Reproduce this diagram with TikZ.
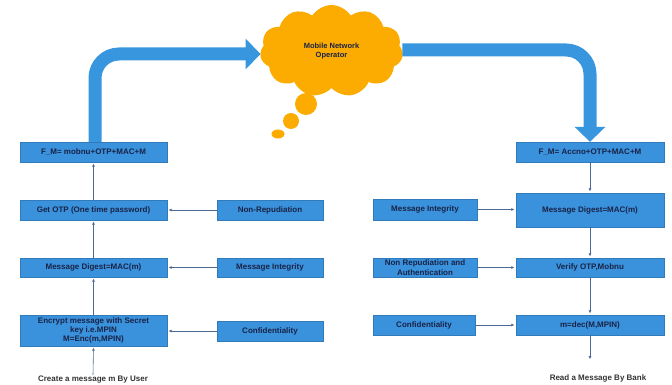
\documentclass[tikz,border=0pt]{standalone}
\usepackage{fontspec}
\setmainfont{Liberation Sans}
\usetikzlibrary{shapes.symbols,arrows.meta}
\definecolor{boxblue}{RGB}{58,145,220}
\definecolor{bigblue}{RGB}{55,150,222}
\definecolor{txtdark}{RGB}{25,35,70}
\definecolor{thinarr}{RGB}{75,105,145}
\definecolor{cloudorange}{RGB}{252,172,0}
\tikzset{
  box/.style={fill=boxblue, draw=boxblue!85!black, line width=0.3pt, inner sep=1pt, align=center,
     text=txtdark, font=\fontsize{8}{9.3}\selectfont\bfseries},
  lbox/.style={box, minimum width=147pt},
  rbox/.style={box, minimum width=148pt},
  sbox/.style={box, minimum width=105pt},
  plain/.style={inner sep=1pt, text=black!80, font=\fontsize{8}{9.5}\selectfont\bfseries},
  thin/.style={draw=thinarr, line width=0.6pt, -{Latex[length=3pt,width=3pt]}, shorten >=1.5pt},
  big/.style={draw=bigblue, line width=13pt, rounded corners=24pt, -{Triangle[width=30pt,length=15pt]}},
  bubble/.style={fill=cloudorange}
}
\begin{document}
\begin{tikzpicture}[x=1pt,y=-1pt]
\useasboundingbox (0,0) rectangle (672,385);
% cloud
\node[cloud, cloud puffs=11, cloud puff arc=115, aspect=1.5, fill=cloudorange, inner sep=0pt,
      minimum width=143pt, minimum height=92pt, align=center, text=txtdark,
      font=\fontsize{7.5}{9}\selectfont\bfseries] (MNO) at (331.5,51) {Mobile Network\\Operator};
\fill[bubble] (306,104) circle (11);
\fill[bubble] (291,121) circle (8);
\fill[bubble] (278,134) ellipse (6.5 and 4.5);
% left column
\node[lbox, minimum height=20pt] (LF) at (93.5,152) {F\_M= mobnu+OTP+MAC+M};
\node[lbox, minimum height=20pt] (LO) at (93.5,210) {Get OTP (One time password)};
\node[lbox, minimum height=19pt] (LD) at (93.5,267.5) {Message Digest=MAC(m)};
\node[lbox, minimum height=31pt] (LE) at (93.5,330.5) {Encrypt message with Secret\\key i.e.MPIN\\M=Enc(m,MPIN)};
\node[sbox, minimum width=106pt, minimum height=20pt] (LNR) at (270,210) {Non-Repudiation};
\node[sbox, minimum width=106pt, minimum height=19pt] (LMI) at (270,267.5) {Message Integrity};
\node[sbox, minimum width=106pt, minimum height=20pt] (LCF) at (270,331) {Confidentiality};
\node[plain] (CU) at (93,380) {Create a message m By User};
% right column
\node[rbox, minimum height=20pt] (RF) at (590,152) {F\_M= Accno+OTP+MAC+M};
\node[rbox, minimum height=34pt] (RD) at (590,210) {Message Digest=MAC(m)};
\node[rbox, minimum height=19pt] (RV) at (590,267.5) {Verify OTP,Mobnu};
\node[rbox, minimum height=20pt] (RM) at (590,325) {m=dec(M,MPIN)};
\node[sbox, minimum width=104pt, minimum height=21pt] (RMI) at (425,209.5) {Message Integrity};
\node[sbox, minimum width=104pt, minimum height=19pt] (RNR) at (425,267.5) {Non Repudiation and\\Authentication};
\node[sbox, minimum width=102pt, minimum height=20pt] (RCF) at (424,325) {Confidentiality};
\node[plain] (RB) at (598,378) {Read a Message By Bank};
% thin arrows left
\draw[thin] (CU.north) -- (LE.south);
\draw[thin] (LE.north) -- (LD.south);
\draw[thin] (LD.north) -- (LO.south);
\draw[thin] (LO.north) -- (LF.south);
\draw[thin] (LNR.west) -- (LO.east);
\draw[thin] (LMI.west) -- (LD.east);
\draw[thin] (LCF.west) -- (LCF.west -| LE.east);
% thin arrows right
\draw[thin] (RF.south) -- (RD.north);
\draw[thin] (RD.south) -- (RV.north);
\draw[thin] (RV.south) -- (RM.north);
\draw[thin, shorten >=14pt] (RM.south) -- (RM.south |- RB.north);
\draw[thin] (RMI.east) -- (RMI.east -| RD.west);
\draw[thin] (RNR.east) -- (RV.west);
\draw[thin] (RCF.east) -- (RM.west);
% big arrows
\draw[big] ([xshift=1.5pt]LF.north) -- ([xshift=1.5pt]LF.north |- 0,54) -- (MNO.west |- 0,54);
\draw[big] (MNO.east |- 0,50) -- (RF.north |- 0,50) -- (RF.north);
\end{tikzpicture}
\end{document}
